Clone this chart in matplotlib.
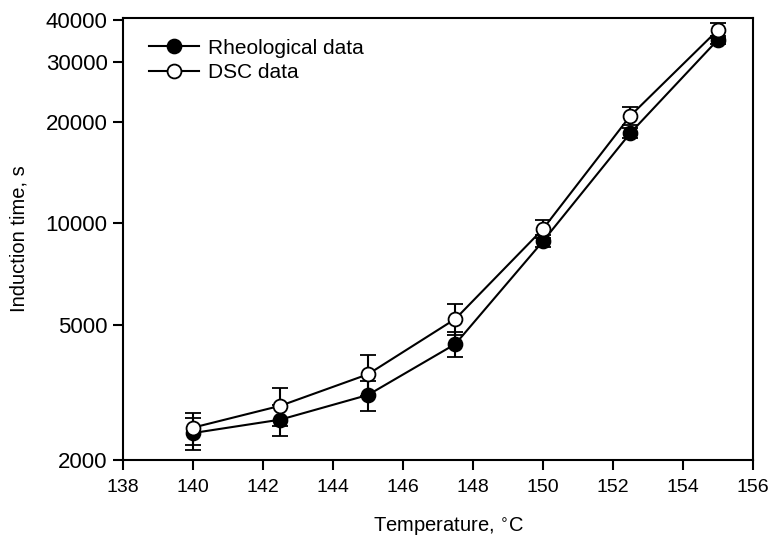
import matplotlib.pyplot as plt
from matplotlib.lines import Line2D
from matplotlib.ticker import FixedLocator, NullLocator

plt.rcParams['font.family'] = ['Liberation Sans', 'DejaVu Sans']

temperature = [140, 142.5, 145, 147.5, 150, 152.5, 155]
rheo_time = [2400, 2630, 3110, 4400, 8850, 18500, 34900]
rheo_err = [260, 270, 320, 365, 360, 600, 900]
dsc_time = [2490, 2890, 3580, 5220, 9620, 20800, 37300]
dsc_err = [270, 380, 500, 550, 580, 1280, 1900]

yticks = [2000, 5000, 10000, 20000, 30000, 40000]
xticks = [138, 140, 142, 144, 146, 148, 150, 152, 154, 156]

fig = plt.figure(figsize=(7.73, 5.41), dpi=100)
ax = fig.add_axes([0.159, 0.150, 0.815, 0.817])

common = dict(color='black', lw=1.5, marker='o', ms=10, mec='black', mew=1.3,
              ecolor='black', elinewidth=1.5, capsize=5.5, capthick=1.5)
ax.errorbar(temperature, rheo_time, yerr=rheo_err, mfc='black', zorder=2, **common)
ax.errorbar(temperature, dsc_time, yerr=dsc_err, mfc='white', zorder=3, **common)

ax.set_yscale('log')
ax.set_ylim(2000, 40500)
ax.set_xlim(138, 156)
ax.yaxis.set_major_locator(FixedLocator(yticks))
ax.yaxis.set_minor_locator(NullLocator())
ax.set_yticklabels([str(t) for t in yticks])
ax.set_xticks(xticks)

ax.tick_params(direction='out', length=7, width=1.5)
ax.tick_params(axis='x', labelsize=14, pad=7)
ax.tick_params(axis='y', labelsize=16, pad=4)
for s in ax.spines.values():
    s.set_linewidth(1.5)

ax.set_xlabel('Temperature, $^{\\circ}$C', fontsize=14.5, labelpad=12)
ax.xaxis.set_label_coords(0.517, -0.125)
ax.set_ylabel('Induction time, s', fontsize=14.5, labelpad=12)

handles = [
    Line2D([], [], color='black', lw=1.5, marker='o', ms=10, mfc='black', mec='black', mew=1.3),
    Line2D([], [], color='black', lw=1.5, marker='o', ms=10, mfc='white', mec='black', mew=1.3),
]
ax.legend(handles, ['Rheological data', 'DSC data'], loc='upper left',
          bbox_to_anchor=(0.028, 0.972), frameon=False, fontsize=15,
          handlelength=2.4, handletextpad=0.45, labelspacing=0.28, borderaxespad=0)

fig.savefig('out.png', dpi=100)
